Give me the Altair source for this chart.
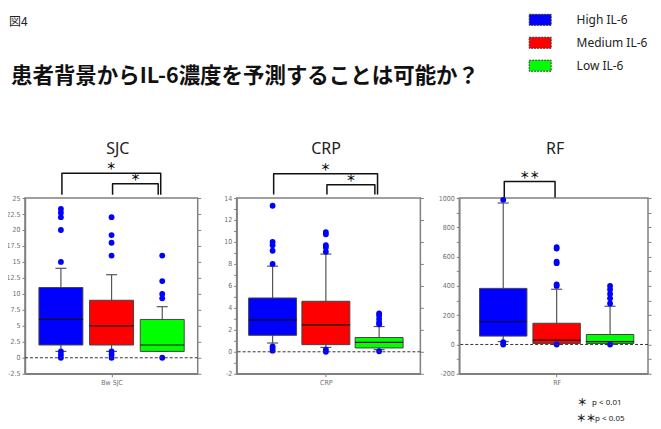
import altair as alt
import numpy as np
import pandas as pd

# ---------------- data ----------------
groups = ["High IL-6", "Medium IL-6", "Low IL-6"]
box_colors = ["#0000ff", "#ff0000", "#00ff00"]
group_pos = [1, 2, 3]

# SJC
sjc_q1 = [2.0, 2.0, 1.0]
sjc_median = [6.0, 5.0, 2.0]
sjc_q3 = [11.0, 9.0, 6.0]
sjc_whisker_low = [1.0, 1.0, 1.0]
sjc_whisker_high = [14.0, 13.0, 8.0]
sjc_out_high = [23.3, 22.7, 22.0, 20.0, 15.0, 1.0, 0.5, 0.0]
sjc_out_medium = [22.0, 19.2, 18.0, 16.0, 1.0, 0.5, 0.0]
sjc_out_low = [16.0, 12.0, 10.0, 9.3, 0.0]

# CRP
crp_q1 = [1.5, 0.65, 0.35]
crp_median = [2.9, 2.45, 0.85]
crp_q3 = [4.9, 4.6, 1.3]
crp_whisker_low = [0.8, 0.4, 0.2]
crp_whisker_high = [7.8, 8.9, 2.3]
crp_out_high = [13.3, 10.0, 9.7, 9.2, 8.0, 0.5, 0.3, 0.1]
crp_out_medium = [10.9, 10.7, 9.7, 9.5, 9.1, 0.2, 0.0]
crp_out_low = [3.5, 3.3, 3.0, 2.7, 2.5, 0.05]

# RF
rf_q1 = [57, 7, 7]
rf_median = [155, 30, 20]
rf_q3 = [383, 145, 68]
rf_whisker_low = [20, 0, 0]
rf_whisker_high = [966, 377, 261]
rf_out_high = [988, 15, 0]
rf_out_medium = [665, 655, 565, 555, 410, 400, 0]
rf_out_low = [400, 375, 345, 315, 280, 0]

# significance brackets: (from group, to group, mark)
sjc_brackets = [(1, 3, "＊"), (2, 3, "＊")]
crp_brackets = [(1, 3, "＊"), (2, 3, "＊")]
rf_brackets = [(1, 2, "＊＊")]

fig_label = "図4"
main_title = "患者背景からIL-6濃度を予測することは可能か？"
note_marks = ["＊", "＊＊"]
note_texts = ["p < 0.01", "p < 0.05"]

# ---------------- layout constants ----------------
PLOT_H = 176
CJK = "Noto Sans CJK JP"
LATIN = "Noto Sans"


def make_panel(title, xlabel, q1, med, q3, wlo, whi, out_lists, brackets,
               width, x_dom, y_dom, y_step, label_every, right_step, y_format,
               box_px, bracket_tops, leg_px, title_x, legend, extra):
    px_per_x = width / (x_dom[1] - x_dom[0])
    hw = box_px / 2.0 / px_per_x
    cap = 5.5 / px_per_x
    y_unit = (y_dom[1] - y_dom[0]) / PLOT_H

    stats = pd.DataFrame({"group": groups, "pos": group_pos, "q1": q1,
                          "med": med, "q3": q3, "lo": wlo, "hi": whi})
    stats["left"] = stats["pos"] - hw
    stats["right"] = stats["pos"] + hw
    stats["cl"] = stats["pos"] - cap
    stats["cr"] = stats["pos"] + cap

    outs = pd.DataFrame([{"group": g, "pos": p, "value": v}
                         for g, p, vals in zip(groups, group_pos, out_lists)
                         for v in vals])

    b_rows, s_rows = [], []
    for i, (a, b, lab) in enumerate(brackets):
        top = y_dom[1] + bracket_tops[i] * y_unit
        base = y_dom[1] + leg_px * y_unit
        xl = a + 0.02
        xr = b - 0.03 - (0.05 if i == 1 else 0.0)
        for k, (xx, yy) in enumerate([(xl, base), (xl, top), (xr, top), (xr, base)]):
            b_rows.append({"bid": i, "k": k, "pos": xx, "by": yy})
        s_rows.append({"pos": (xl + xr) / 2, "sy": top + 6.0 * y_unit, "mark": lab})
    bdf = pd.DataFrame(b_rows)
    sdf = pd.DataFrame(s_rows)

    ticks = [float(v) for v in np.round(np.arange(y_dom[0], y_dom[1] + 1e-9, y_step), 4)]
    right_ticks = [float(v) for v in np.round(np.arange(y_dom[0], y_dom[1] + 1e-9, right_step), 4)]
    plain = "replace(datum.label, '\u2212', '-')"
    if label_every:
        lab_expr = f"datum.value % {label_every} === 0 ? {plain} : ''"
    else:
        lab_expr = plain

    yscale = alt.Scale(domain=list(y_dom), nice=False, zero=False)
    yaxis = alt.Axis(values=ticks, labelExpr=lab_expr, format=y_format, title=None,
                     grid=False, tickSize=3, minExtent=0)
    xscale = alt.Scale(domain=list(x_dom), nice=False, zero=False)
    xaxis = alt.Axis(values=[2], labelExpr=f"'{xlabel}'", title=None, grid=False,
                     tickSize=3, minExtent=0)

    def X(f):
        return alt.X(f, type="quantitative", scale=xscale, axis=xaxis)

    def Y(f):
        return alt.Y(f, type="quantitative", scale=yscale, axis=yaxis)

    base = alt.Chart(stats)
    whisk_up = base.mark_rule(color="#555555", strokeWidth=1.2).encode(
        x=X("pos"), y=Y("q3"), y2="hi")
    whisk_dn = base.mark_rule(color="#555555", strokeWidth=1.2).encode(
        x=X("pos"), y=Y("lo"), y2="q1")
    cap_up = base.mark_rule(color="#555555", strokeWidth=1.2).encode(
        x=X("cl"), x2="cr", y=Y("hi"))
    cap_dn = base.mark_rule(color="#555555", strokeWidth=1.2).encode(
        x=X("cl"), x2="cr", y=Y("lo"))
    color = alt.Color("group:N", scale=alt.Scale(domain=groups, range=box_colors),
                      legend=legend)
    boxes = base.mark_rect(stroke="#444444", strokeWidth=1, opacity=1).encode(
        x=X("left"), x2="right", y=Y("q1"), y2="q3", color=color)
    medians = base.mark_rule(color="#111111", strokeWidth=1.2).encode(
        x=X("left"), x2="right", y=Y("med"))
    dots = alt.Chart(outs).mark_circle(color="#0000ff", size=34, opacity=1).encode(
        x=X("pos"), y=Y("value"))
    blines = alt.Chart(bdf).mark_line(color="#111111", strokeWidth=1.5,
                                      strokeJoin="round").encode(
        x=X("pos"), y=Y("by"), detail="bid:N", order="k:Q")
    stars = alt.Chart(sdf).mark_text(font=CJK, fontSize=10, fontWeight="bold",
                                     color="#111111", baseline="middle").encode(
        x=X("pos"), y=Y("sy"), text="mark:N")
    ttl = alt.Chart(pd.DataFrame({"t": [title]})).mark_text(
        font=LATIN, fontSize=16, color="#222222", align="center",
        baseline="middle").encode(text="t:N", x=alt.value(title_x), y=alt.value(-49.5))

    inner = alt.layer(whisk_up, whisk_dn, cap_up, cap_dn, boxes, medians, dots,
                      blines, stars, ttl, *extra)

    zero = alt.Chart(pd.DataFrame({"zero": [0]})).mark_rule(
        color="#333333", strokeDash=[3, 2], strokeWidth=1).encode(
        y=alt.Y("zero:Q", scale=alt.Scale(domain=list(y_dom), nice=False, zero=False),
                axis=alt.Axis(orient="right", values=right_ticks, labels=False,
                              labelExpr="''", labelOpacity=0, title=None,
                              domain=False, grid=False, tickSize=3, minExtent=0)))

    return alt.layer(inner, zero).resolve_scale(y="independent").properties(
        width=width, height=PLOT_H)


# header texts placed in the first panel
hdr = [
    alt.Chart(pd.DataFrame({"t": [fig_label]})).mark_text(
        font=CJK, fontSize=12, color="#222222", align="left", baseline="middle"
    ).encode(text="t:N", x=alt.value(-16), y=alt.value(-176.5)),
    alt.Chart(pd.DataFrame({"t": [main_title]})).mark_text(
        font=CJK, fontSize=21.5, fontWeight="bold", color="#111111", align="left",
        baseline="middle"
    ).encode(text="t:N", x=alt.value(-14), y=alt.value(-121.5)),
]

# footnotes placed in the third panel
note_x_mark = [123, 127]
note_x_text = [133, 136]
note_y = [205, 221]
foot = []
for m, t, xm, xt, yy in zip(note_marks, note_texts, note_x_mark, note_x_text, note_y):
    foot.append(alt.Chart(pd.DataFrame({"m": [m]})).mark_text(
        font=CJK, fontSize=10, fontWeight="bold", color="#222222", align="center",
        baseline="middle").encode(text="m:N", x=alt.value(xm), y=alt.value(yy)))
    foot.append(alt.Chart(pd.DataFrame({"t": [t]})).mark_text(
        font=LATIN, fontSize=8, color="#222222", align="left",
        baseline="middle").encode(text="t:N", x=alt.value(xt), y=alt.value(yy)))

legend = alt.Legend(orient="none", legendX=75, legendY=-184.5, title=None,
                    symbolType="M-2,-1H2V1H-2Z", symbolSize=121,
                    symbolStrokeColor="#333333", symbolStrokeWidth=1,
                    symbolDash=[2, 1], symbolOpacity=1,
                    labelFont=LATIN, labelFontSize=12, labelColor="#222222",
                    labelOffset=30.5, rowPadding=7, padding=0)

p1 = make_panel("SJC", "Bw SJC", sjc_q1, sjc_median, sjc_q3, sjc_whisker_low,
                sjc_whisker_high, [sjc_out_high, sjc_out_medium, sjc_out_low],
                sjc_brackets, width=173, x_dom=(0.291, 3.70), y_dom=(-2.5, 25),
                y_step=2.5, label_every=None, right_step=2.5, y_format=".1~f",
                box_px=44, bracket_tops=[24.8, 14.2], leg_px=3.2, title_x=93,
                legend=None, extra=hdr)
p2 = make_panel("CRP", "CRP", crp_q1, crp_median, crp_q3, crp_whisker_low,
                crp_whisker_high, [crp_out_high, crp_out_medium, crp_out_low],
                crp_brackets, width=184, x_dom=(0.325, 3.774), y_dom=(-2, 14),
                y_step=1, label_every=2, right_step=2, y_format="d", box_px=48,
                bracket_tops=[24.2, 13.2], leg_px=3.5, title_x=89.5, legend=None,
                extra=[])
p3 = make_panel("RF", "RF", rf_q1, rf_median, rf_q3, rf_whisker_low,
                rf_whisker_high, [rf_out_high, rf_out_medium, rf_out_low],
                rf_brackets, width=189, x_dom=(0.178, 3.71), y_dom=(-200, 1000),
                y_step=100, label_every=200, right_step=100, y_format="d",
                box_px=47.5, bracket_tops=[16.5], leg_px=0.5, title_x=96,
                legend=legend, extra=foot)

chart = alt.hconcat(p1, p2, p3, spacing=39, bounds="flush").resolve_scale(
    color="independent").resolve_legend(color="independent").properties(
    padding={"left": -3, "top": 4, "right": 0, "bottom": 0}
).configure_view(stroke="#808080", strokeWidth=1.5).configure_axis(
    domainColor="#808080", domainWidth=1.5, tickColor="#808080", tickWidth=1,
    labelColor="#707070", labelFont="DejaVu Sans Condensed", labelFontSize=7,
    labelPadding=2, minExtent=0)

chart.save("out.html", embed_options={"renderer": "svg", "actions": False})
